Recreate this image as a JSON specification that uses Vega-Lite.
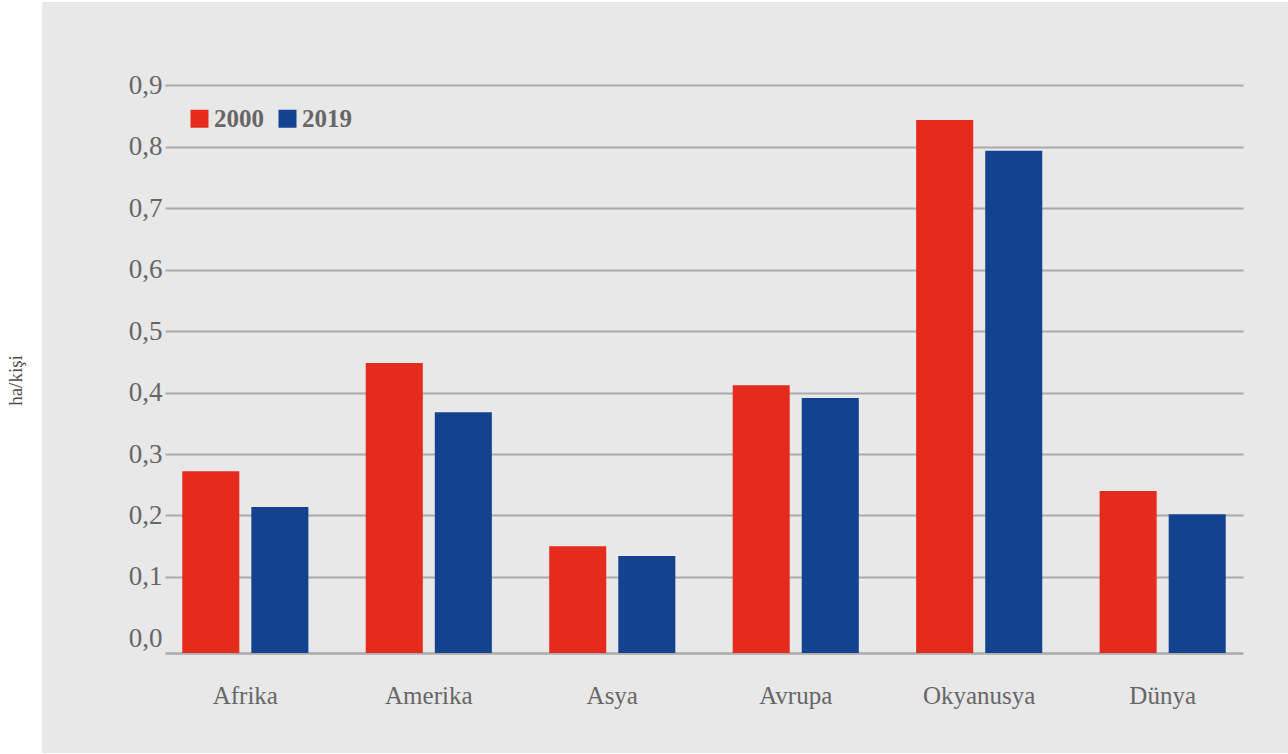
{
  "$schema": "https://vega.github.io/schema/vega-lite/v6.json",
  "width": 1246,
  "height": 751,
  "autosize": {"type": "none"},
  "padding": {"left": 42, "top": 2, "right": 0, "bottom": 1},
  "background": "#ffffff",
  "config": {
    "view": {"fill": "#e8e8e8", "stroke": null},
    "font": "Liberation Serif"
  },
  "data": {
    "values": [
      {"region": "Afrika", "year": "2000", "value": 0.272},
      {"region": "Afrika", "year": "2019", "value": 0.214},
      {"region": "Amerika", "year": "2000", "value": 0.448},
      {"region": "Amerika", "year": "2019", "value": 0.368},
      {"region": "Asya", "year": "2000", "value": 0.150},
      {"region": "Asya", "year": "2019", "value": 0.134},
      {"region": "Avrupa", "year": "2000", "value": 0.412},
      {"region": "Avrupa", "year": "2019", "value": 0.391},
      {"region": "Okyanusya", "year": "2000", "value": 0.843},
      {"region": "Okyanusya", "year": "2019", "value": 0.793},
      {"region": "Dünya", "year": "2000", "value": 0.240},
      {"region": "Dünya", "year": "2019", "value": 0.202}
    ]
  },
  "mark": {"type": "bar"},
  "encoding": {
    "x": {
      "field": "region",
      "type": "nominal",
      "sort": null,
      "scale": {"range": [123, 1201], "paddingInner": 0.3126, "paddingOuter": 0.0941},
      "axis": {
        "title": null,
        "orient": "bottom",
        "offset": -100,
        "ticks": false,
        "grid": false,
        "domainColor": "#aaaaaa",
        "domainWidth": 2.5,
        "labelAngle": 0,
        "labelFont": "Liberation Serif",
        "labelFontSize": 25,
        "labelColor": "#666666",
        "labelPadding": 30,
        "labelBaseline": "top"
      }
    },
    "xOffset": {
      "field": "year",
      "type": "nominal",
      "scale": {"paddingInner": 0.174, "paddingOuter": 0}
    },
    "y": {
      "field": "value",
      "type": "quantitative",
      "scale": {"domain": [-0.1862, 1.035], "nice": false, "zero": false},
      "axis": {
        "values": [0, 0.1, 0.2, 0.3, 0.4, 0.5, 0.6, 0.7, 0.8, 0.9],
        "labelExpr": "replace(format(datum.value, '.1f'), '.', ',')",
        "orient": "left",
        "offset": -128,
        "domain": false,
        "ticks": false,
        "grid": true,
        "gridColor": {"condition": {"test": "datum.value === 0", "value": "transparent"}, "value": "#aaaaaa"},
        "gridWidth": 2,
        "labelFont": "Liberation Serif",
        "labelFontSize": 27,
        "labelColor": "#666666",
        "labelPadding": 8,
        "title": "ha/kişi",
        "titleFont": "Liberation Serif",
        "titleFontSize": 19,
        "titleFontWeight": "normal",
        "titleColor": "#4d4d4d",
        "titleAngle": -90,
        "titleAlign": "center",
        "titleBaseline": "middle",
        "titleX": -155,
        "titleY": 378
      }
    },
    "y2": {"datum": -0.0236},
    "color": {
      "field": "year",
      "type": "nominal",
      "scale": {"domain": ["2000", "2019"], "range": ["#e52b1c", "#13438e"]},
      "legend": {
        "title": null,
        "orient": "none",
        "legendX": 145,
        "legendY": 104,
        "direction": "horizontal",
        "padding": 0,
        "symbolType": "square",
        "symbolSize": 324,
        "symbolStrokeWidth": 0,
        "symbolOpacity": 1,
        "labelFont": "Liberation Serif",
        "labelFontSize": 25,
        "labelFontWeight": "bold",
        "labelColor": "#666666",
        "labelOffset": 2,
        "columnPadding": 11
      }
    }
  }
}
